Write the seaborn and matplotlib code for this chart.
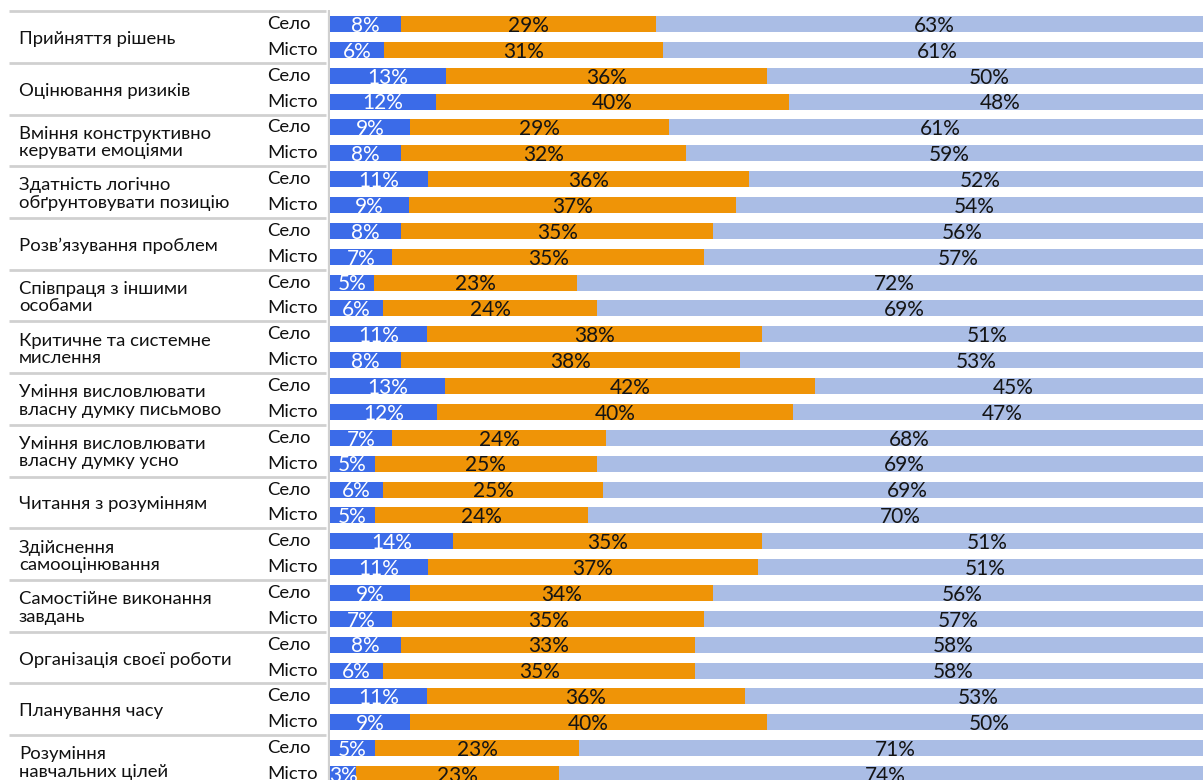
import matplotlib
matplotlib.use("Agg")
import matplotlib.pyplot as plt
import seaborn as sns
import pandas as pd

sns.set_theme(style="white")
plt.rcParams['font.family'] = ['Lato', 'DejaVu Sans']

skills = [
    "Прийняття рішень",
    "Оцінювання ризиків",
    "Вміння конструктивно\nкерувати емоціями",
    "Здатність логічно\nобґрунтовувати позицію",
    "Розв’язування проблем",
    "Співпраця з іншими\nособами",
    "Критичне та системне\nмислення",
    "Уміння висловлювати\nвласну думку письмово",
    "Уміння висловлювати\nвласну думку усно",
    "Читання з розумінням",
    "Здійснення\nсамооцінювання",
    "Самостійне виконання\nзавдань",
    "Організація своєї роботи",
    "Планування часу",
    "Розуміння\nнавчальних цілей",
]
areas = ["Село", "Місто"]

village_low = [8, 13, 9, 11, 8, 5, 11, 13, 7, 6, 14, 9, 8, 11, 5]
village_mid = [29, 36, 29, 36, 35, 23, 38, 42, 24, 25, 35, 34, 33, 36, 23]
village_high = [63, 50, 61, 52, 56, 72, 51, 45, 68, 69, 51, 56, 58, 53, 71]
city_low = [6, 12, 8, 9, 7, 6, 8, 12, 5, 5, 11, 7, 6, 9, 3]
city_mid = [31, 40, 32, 37, 35, 24, 38, 40, 25, 24, 37, 35, 35, 40, 23]
city_high = [61, 48, 59, 54, 57, 69, 53, 47, 69, 70, 51, 57, 58, 50, 74]

C_LOW = "#3b6be8"
C_MID = "#ef9407"
C_HIGH = "#aabde5"
C_GRID = "#d0d0d0"

rows = []
for i, s in enumerate(skills):
    for area, lo, mi, hi in ((areas[0], village_low[i], village_mid[i], village_high[i]),
                             (areas[1], city_low[i], city_mid[i], city_high[i])):
        tot = lo + mi + hi
        rows.append(dict(row=f"{i}-{area}", skill=s, area=area,
                         low=lo, mid=mi, high=hi,
                         c1=lo / tot * 100, c2=(lo + mi) / tot * 100, c3=100.0))
df = pd.DataFrame(rows)
order = list(df["row"])

W, H, DPI = 1203, 780, 100
fig = plt.figure(figsize=(W / DPI, H / DPI), dpi=DPI)

pitch = 750 / 29.0          # px between bar rows
y0 = 24.0                   # px centre of first bar
ylim = ((H - y0) / pitch, -y0 / pitch)

bar_left, bar_right = 330, 1212
ax = fig.add_axes([bar_left / W, 0, (bar_right - bar_left) / W, 1])
for col, c in (("c3", C_HIGH), ("c2", C_MID), ("c1", C_LOW)):
    sns.barplot(data=df, y="row", x=col, order=order, orient="h", color=c,
                saturation=1, width=16 / pitch, errorbar=None, ax=ax, linewidth=0)
ax.set_xlim(0, 100)
ax.set_ylim(*ylim)
ax.axis("off")

fs_pct = 15
dy = 1.8 / pitch
for i, r in df.iterrows():
    segs = [(0, r.c1, r.low, "white"), (r.c1, r.c2, r.mid, "#141414"), (r.c2, r.c3, r.high, "#141414")]
    for a, b, v, tc in segs:
        ax.text((a + b) / 2, i + dy, f"{v}%", ha="center", va="center",
                fontsize=fs_pct, color=tc, fontweight="normal")

# left label panel
axl = fig.add_axes([0, 0, bar_left / W, 1])
axl.set_xlim(0, bar_left)
axl.set_ylim(*ylim)
axl.axis("off")
for g, s in enumerate(skills):
    axl.plot([9, 326], [2 * g - 0.5, 2 * g - 0.5], color=C_GRID, lw=2.0, solid_capstyle="butt")
    axl.text(19, 2 * g + 0.5 + 2.0 / pitch, s, ha="left", va="center", fontsize=13.3,
             color="#111111", linespacing=1.1)
    axl.text(267, 2 * g, areas[0], ha="left", va="center", fontsize=13.3, color="#111111")
    axl.text(267, 2 * g + 1, areas[1], ha="left", va="center", fontsize=13.3, color="#111111")
axl.plot([329, 329], [(10 - y0) / pitch, ylim[0]], color=C_GRID, lw=1.6, solid_capstyle="butt")

fig.savefig("out.png", dpi=DPI)
